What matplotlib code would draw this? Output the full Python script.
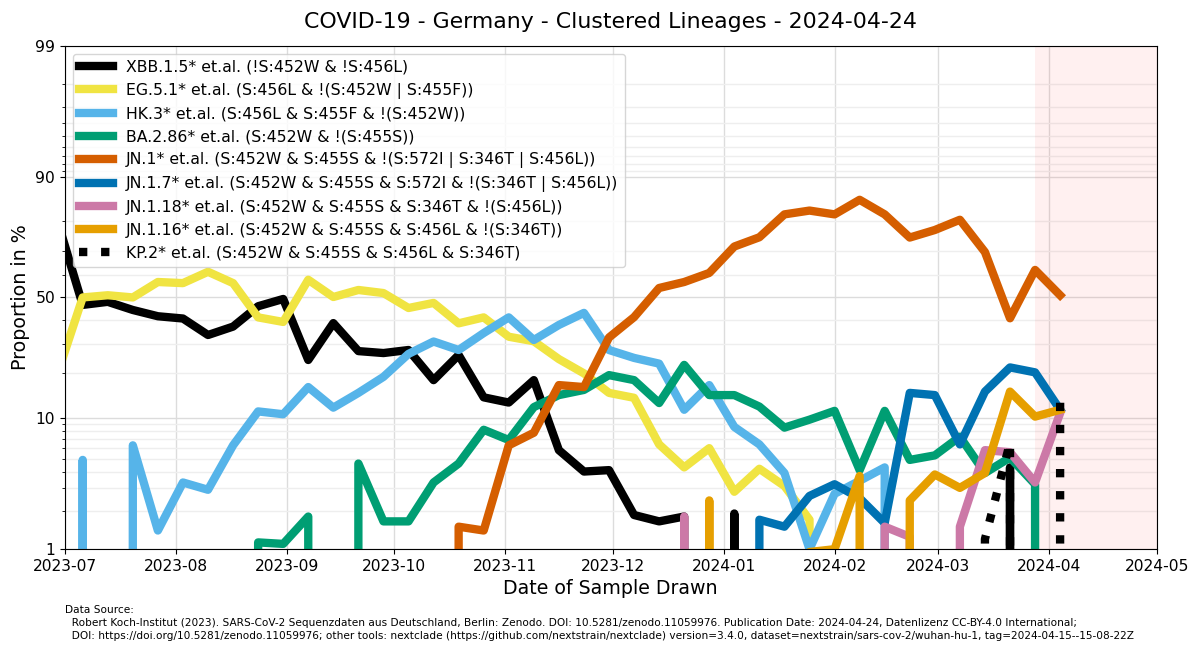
import numpy as np
import pandas as pd
import matplotlib
matplotlib.use("Agg")
import matplotlib.pyplot as plt
import matplotlib.dates as mdates
from matplotlib.ticker import FixedLocator, NullFormatter

# ---- DATOS (porcentaje por semana, 0 = sin muestras) ----
fechas = pd.date_range("2023-06-29", periods=41, freq="7D")

xbb15 = [80, 46.6, 48, 44.3, 41.5, 40.5, 33.5, 37, 46, 49.3,
         24.2, 38.5, 27.3, 26.6, 27.7, 18.1, 25.9, 13.9, 12.8, 18.1,
         5.8, 4.0, 4.1, 1.85, 1.65, 1.8, 0, 1.9, 0, 0,
         0, 0, 0, 0, 0, 0, 0, 0, 4.3, 0, 0]
eg51 = [20, 50, 51, 50, 57, 56.5, 61.5, 56.5, 41, 39,
        58, 50.2, 53.4, 52, 45.2, 47.5, 38.4, 41, 32.8, 31,
        24.5, 20, 14.9, 13.8, 6.4, 4.3, 6.0, 2.8, 4.2, 3.1,
        1.7, 0, 0, 0, 0, 0, 0, 0, 0, 0, 0]
hk3 = [0, 4.9, 0, 6.3, 1.4, 3.3, 2.9, 6.3, 11.1, 10.6,
       16.3, 11.8, 14.9, 19.0, 26.3, 30.9, 27.7, 34.3, 41, 31.5,
       37.7, 43, 27.7, 24.9, 23, 11.4, 16.8, 8.6, 6.4, 3.9,
       1.0, 2.7, 3.4, 4.3, 0, 0, 0, 0, 0, 0, 0]
ba286 = [0, 0, 0, 0, 0, 0, 0, 0, 1.13, 1.1,
         1.8, 0, 4.6, 1.65, 1.65, 3.3, 4.6, 8.2, 6.9, 11.9,
         14.4, 15.6, 19.5, 18.1, 12.7, 22.6, 14.4, 14.4, 12.0, 8.5,
         9.7, 11.2, 4.1, 11.2, 4.9, 5.3, 7.3, 3.9, 5.1, 3.2, 0]
jn1 = [0, 0, 0, 0, 0, 0, 0, 0, 0, 0,
       0, 0, 0, 0, 0, 0, 1.5, 1.4, 6.3, 7.8,
       16.8, 16.3, 32.5, 41.1, 54.3, 57, 61, 71.7, 75, 82,
       83, 82, 85.6, 82, 74.9, 77.4, 80.5, 69.6, 40.6, 62.3, 51]
jn17 = [0] * 28 + [1.7, 1.5, 2.6, 3.2, 2.5, 1.6, 14.9, 14.4, 6.4, 15.2, 21.8, 20.3, 11.4]
jn118 = [0] * 25 + [1.8, 0, 0, 0, 0, 0, 0, 0, 1.5, 1.25, 0, 1.5, 5.8, 5.6, 3.3, 10.8]
jn116 = [0] * 26 + [2.4, 0, 0, 0, 0.95, 1.0, 3.7, 0, 2.4, 3.8, 3.0, 3.9, 15.2, 10.2, 11.4]
kp2 = [0] * 37 + [1.2, 6.6, 0, 13.5]

nombres = [
    "XBB.1.5* et.al. (!S:452W & !S:456L)",
    "EG.5.1* et.al. (S:456L & !(S:452W | S:455F))",
    "HK.3* et.al. (S:456L & S:455F & !(S:452W))",
    "BA.2.86* et.al. (S:452W & !(S:455S))",
    "JN.1* et.al. (S:452W & S:455S & !(S:572I | S:346T | S:456L))",
    "JN.1.7* et.al. (S:452W & S:455S & S:572I & !(S:346T | S:456L))",
    "JN.1.18* et.al. (S:452W & S:455S & S:346T & !(S:456L))",
    "JN.1.16* et.al. (S:452W & S:455S & S:456L & !(S:346T))",
    "KP.2* et.al. (S:452W & S:455S & S:456L & S:346T)",
]
series = [xbb15, eg51, hk3, ba286, jn1, jn17, jn118, jn116, kp2]
colores = ["#000000", "#F0E442", "#56B4E9", "#009E73", "#D55E00",
           "#0072B2", "#CC79A7", "#E69F00", "#000000"]
estilos = ["-"] * 8 + [":"]

fuente = ("Data Source:\n"
          "  Robert Koch-Institut (2023). SARS-CoV-2 Sequenzdaten aus Deutschland, Berlin: Zenodo. "
          "DOI: 10.5281/zenodo.11059976. Publication Date: 2024-04-24, Datenlizenz CC-BY-4.0 International;\n"
          "  DOI: https://doi.org/10.5281/zenodo.11059976; other tools: nextclade "
          "(https://github.com/nextstrain/nextclade) version=3.4.0, dataset=nextstrain/sars-cov-2/wuhan-hu-1, "
          "tag=2024-04-15--15-08-22Z")

# ---- FIGURA ----
fig = plt.figure(figsize=(12, 6.53), dpi=100)
ax = fig.add_axes([0.054, 0.159, 0.910, 0.771])

for nombre, valores, color, estilo in zip(nombres, series, colores, estilos):
    ax.plot(fechas, np.array(valores) / 100.0, color=color, linestyle=estilo,
            linewidth=6, label=nombre)

ax.set_yscale("logit", nonpositive="clip")
ax.set_ylim(0.01, 0.99)
ax.yaxis.set_major_locator(FixedLocator([0.01, 0.1, 0.5, 0.9, 0.99]))
ax.set_yticklabels(["1", "10", "50", "90", "99"])
ax.yaxis.set_minor_formatter(NullFormatter())

ax.set_xlim(pd.Timestamp("2023-07-01"), pd.Timestamp("2024-05-01"))
ax.xaxis.set_major_locator(mdates.MonthLocator())
ax.xaxis.set_major_formatter(mdates.DateFormatter("%Y-%m"))

# zona de datos incompletos
ax.axvspan(fechas[-2], pd.Timestamp("2024-05-01"), color="red", alpha=0.06, lw=0)

ax.grid(True, which="major", color="#dcdcdc", linewidth=1)
ax.grid(True, which="minor", axis="y", color="#eeeeee", linewidth=1)
ax.set_axisbelow(True)
ax.tick_params(labelsize=11.2)

ax.set_title("COVID-19 - Germany - Clustered Lineages - 2024-04-24", fontsize=15.8, pad=13)
ax.set_xlabel("Date of Sample Drawn", fontsize=13.7)
ax.set_ylabel("Proportion in %", fontsize=13.7)
ax.legend(loc="upper left", fontsize=11.3, handlelength=2.2, labelspacing=0.5)

fig.text(0.054, 0.073, fuente, fontsize=7.55, va="top", ha="left", linespacing=1.35,
         family=["Liberation Sans Narrow", "DejaVu Sans"])

fig.savefig("out.png", dpi=100)
